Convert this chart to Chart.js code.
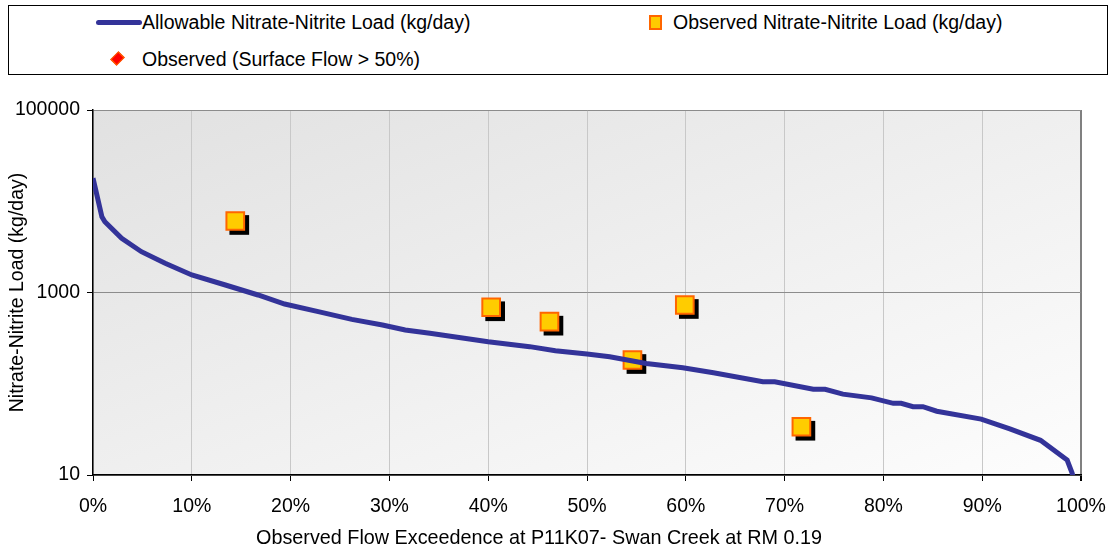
<!DOCTYPE html>
<html>
<head>
<meta charset="utf-8">
<script src="https://cdn.jsdelivr.net/npm/chart.js@4/dist/chart.umd.min.js"></script>
<style>
  html, body { margin: 0; padding: 0; background: #fff; }
  #wrap { position: relative; width: 1114px; height: 550px; font-family: "Liberation Sans", Arial, sans-serif; }
  #legend { position: absolute; left: 8px; top: 5px; width: 1098px; height: 68px; border: 1px solid #000; background: #fff; }
  .item { position: absolute; font-size: 19.5px; line-height: 22px; color: #000; white-space: nowrap; }
  .mk { position: absolute; }
  #xtitle { position: absolute; left: 0; top: 526px; width: 1078px; text-align: center; font-size: 19.8px; line-height: 22px; color: #000; white-space: nowrap; }
</style>
</head>
<body>
<div id="wrap">
  <canvas id="chart" width="1114" height="550"></canvas>
  <div id="legend"></div>
  <div id="xtitle"></div>
</div>
<script>
// flow exceedence (%) and allowable load curve
var flowPct = [0, 0.9, 1.2, 2.9, 4.9, 7.3, 10, 13.4, 16.7, 19.4, 22.8, 26.2, 29.3, 31.6, 34.1, 40, 44.2, 46.8, 50, 52.3, 56, 59.7, 62.8, 67.8, 69, 72.9, 74.1, 75.9, 78.8, 81, 81.8, 83, 84, 85.4, 89.9, 92.8, 95.9, 98.6, 99.1, 99.4];
var allowLoad = [17900, 6770, 5970, 3930, 2800, 2090, 1556, 1208, 939, 748, 617, 508, 440, 388, 357, 289, 255, 230, 212, 198, 167, 150, 132, 105, 105, 87, 87, 77, 70, 61, 61, 56, 56, 50, 41, 32, 24, 14.6, 10.5, 8];

// observed samples
var obsFlow = [14.4, 40.3, 46.2, 54.6, 59.9, 71.7];
var obsLoad = [6080, 689, 479, 182, 730, 33.8];

// observed with surface flow > 50% (none in this plot)
var surfFlow = [];
var surfLoad = [];

var xTicks = [0, 10, 20, 30, 40, 50, 60, 70, 80, 90, 100];
var yTicks = [10, 1000, 100000];

var seriesNames = [
  'Allowable Nitrate-Nitrite Load (kg/day)',
  'Observed Nitrate-Nitrite Load (kg/day)',
  'Observed (Surface Flow > 50%)'
];
var xTitle = 'Observed Flow Exceedence at P11K07- Swan Creek at RM 0.19';
var yTitle = 'Nitrate-Nitrite Load (kg/day)';

function toPoints(xs, ys) {
  var pts = [];
  for (var i = 0; i < xs.length; i++) pts.push({x: xs[i], y: ys[i]});
  return pts;
}

// plot area background, grey top-left corner fading to white bottom-right corner
var plotBg = {
  id: 'plotBg',
  beforeDraw: function(chart) {
    var a = chart.chartArea, ctx = chart.ctx;
    var W = a.right - a.left, H = a.bottom - a.top;
    // run the gradient so its bands lie parallel to the other diagonal
    var k = 2 * W * H / (W * W + H * H);
    var g = ctx.createLinearGradient(a.left, a.top, a.left + H * k, a.top + W * k);
    g.addColorStop(0, '#e1e1e1');
    g.addColorStop(1, '#fdfdfd');
    ctx.save();
    ctx.fillStyle = g;
    ctx.fillRect(a.left, a.top, W, H);
    ctx.restore();
  }
};

// black drop shadow behind the observed squares
var markShadow = {
  id: 'markShadow',
  beforeDatasetDraw: function(chart, args) {
    if (args.index !== 1) return;
    var ctx = chart.ctx;
    var meta = chart.getDatasetMeta(1);
    var ds = chart.data.datasets[1];
    var half = ds.pointRadius * Math.SQRT1_2 + ds.pointBorderWidth / 2;
    ctx.save();
    ctx.fillStyle = '#000';
    meta.data.forEach(function(p) {
      ctx.fillRect(p.x + 4 - half, p.y + 4 - half, half * 2, half * 2);
    });
    ctx.restore();
  }
};

Chart.defaults.font.family = '"Liberation Sans", Arial, sans-serif';
Chart.defaults.color = '#000';

var chart = new Chart(document.getElementById('chart').getContext('2d'), {
  type: 'scatter',
  data: {
    datasets: [
      {
        type: 'line',
        label: seriesNames[0],
        data: toPoints(flowPct, allowLoad),
        borderColor: '#333399',
        borderWidth: 5,
        pointRadius: 0,
        tension: 0,
        fill: false
      },
      {
        label: seriesNames[1],
        data: toPoints(obsFlow, obsLoad),
        pointStyle: 'rect',
        pointRadius: 12.5,
        pointBackgroundColor: '#ffcc00',
        pointBorderColor: '#ff6600',
        pointBorderWidth: 2,
        clip: false
      },
      {
        label: seriesNames[2],
        data: toPoints(surfFlow, surfLoad),
        pointStyle: 'rectRot',
        pointRadius: 7,
        pointBackgroundColor: '#ff0000',
        pointBorderColor: '#ff6600',
        pointBorderWidth: 1
      }
    ]
  },
  options: {
    responsive: false,
    animation: false,
    layout: { padding: { left: 0, top: 110, right: 33, bottom: 0 } },
    plugins: {
      legend: { display: false },
      tooltip: { enabled: false }
    },
    scales: {
      x: {
        type: 'linear',
        min: 0,
        max: 100,
        afterFit: function(s) { s.height = 75; s.paddingLeft = 0; s.paddingRight = 0; },
        afterBuildTicks: function(s) { s.ticks = xTicks.map(function(v) { return {value: v}; }); },
        ticks: {
          font: { size: 19.5 },
          padding: 14,
          maxRotation: 0,
          callback: function(v) { return v + '%'; }
        },
        grid: {
          color: function(c) { return c.tick && c.tick.value === 100 ? '#808080' : '#c8c8c8'; },
          lineWidth: function(c) { return c.tick && c.tick.value === 100 ? 2 : 1; },
          tickColor: '#000',
          tickLength: 6
        },
        border: { color: '#000', width: 1.5 }
      },
      y: {
        type: 'logarithmic',
        min: 10,
        max: 100000,
        afterFit: function(s) { s.width = 93; },
        afterBuildTicks: function(s) { s.ticks = yTicks.map(function(v) { return {value: v}; }); },
        ticks: {
          font: { size: 19.5 },
          padding: 7,
          callback: function(v) { return String(v); }
        },
        grid: {
          color: '#8c8c8c',
          tickColor: '#000',
          tickLength: 6
        },
        border: { color: '#000', width: 1.5 },
        title: {
          display: true,
          text: yTitle,
          font: { size: 19.5 },
          padding: { top: 6, bottom: 4 }
        }
      }
    }
  },
  plugins: [plotBg, markShadow]
});

document.getElementById('xtitle').textContent = xTitle;

// legend box, built from the chart's own datasets
(function buildLegend() {
  var box = document.getElementById('legend');
  var ds = chart.data.datasets;
  var spots = [
    {mx: 87, my: 14, tx: 133, ty: 5},
    {mx: 640, my: 9, tx: 664, ty: 5},
    {mx: 104, my: 48, tx: 133, ty: 42}
  ];
  ds.forEach(function(d, i) {
    var s = spots[i];
    var mk = document.createElement('div');
    mk.className = 'mk';
    if (i === 0) {
      mk.style.cssText = 'left:' + s.mx + 'px;top:' + s.my + 'px;width:46px;height:5px;border-radius:3px;background:' + d.borderColor;
    } else if (i === 1) {
      mk.style.cssText = 'left:' + s.mx + 'px;top:' + s.my + 'px;width:9px;height:11px;background:' + d.pointBackgroundColor + ';border:2px solid ' + d.pointBorderColor;
    } else {
      mk.style.cssText = 'left:' + s.mx + 'px;top:' + s.my + 'px;width:7px;height:7px;transform:rotate(45deg) scaleY(1.3);background:' + d.pointBackgroundColor + ';border:1px solid ' + d.pointBorderColor;
    }
    box.appendChild(mk);
    var t = document.createElement('div');
    t.className = 'item';
    t.style.left = s.tx + 'px';
    t.style.top = s.ty + 'px';
    t.textContent = d.label;
    box.appendChild(t);
  });
})();
</script>
</body>
</html>
